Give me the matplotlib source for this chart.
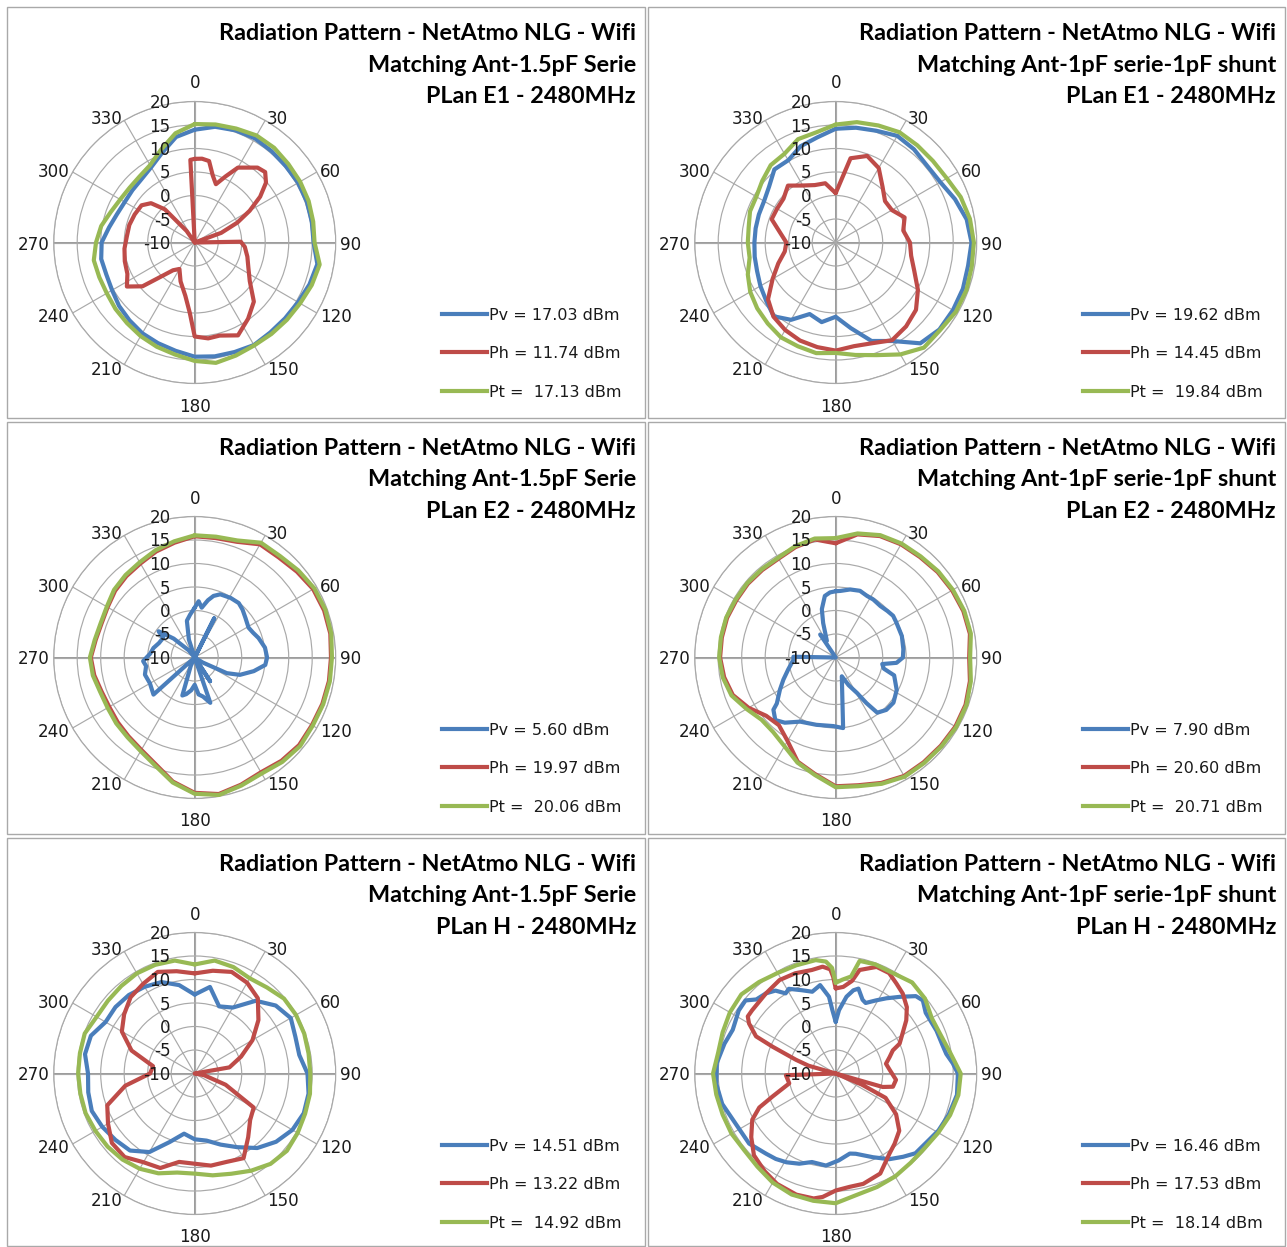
import numpy as np
import matplotlib
matplotlib.use("Agg")
import matplotlib.pyplot as plt
from matplotlib.lines import Line2D
from matplotlib.patches import Rectangle
from matplotlib.transforms import ScaledTranslation

W, H, DPI = 1287, 1247, 100

# ------------------------------------------------------------------ data
ANG10 = list(range(0, 360, 10))
angle_labels = ['0', '30', '60', '90', '120', '150', '180', '210', '240', '270', '300', '330']
ring_values = [20, 15, 10, 5, 0, -5, -10]

title_top = "Radiation Pattern - NetAtmo NLG - Wifi"
match_a = "Matching Ant-1.5pF Serie"
match_b = "Matching Ant-1pF serie-1pF shunt"
plan_e1 = "PLan E1 - 2480MHz"
plan_e2 = "PLan E2 - 2480MHz"
plan_h = "PLan H - 2480MHz"

# Panel 1 : E1, 1.5pF serie
e1a_pv = [14.0, 15.0, 15.4, 15.6, 15.4, 15.3, 15.4, 15.4, 15.3, 15.3, 16.5, 16.0, 15.4, 15.1, 15.0, 15.2, 14.8, 14.6,
          14.3, 13.4, 12.8, 12.3, 11.6, 11.0, 10.3, 10.0, 10.2, 9.8, 8.5, 7.6, 7.2, 7.3, 7.6, 8.5, 10.3, 12.8]
e1a_pt = [15.2, 15.5, 15.8, 16.3, 16.3, 16.0, 15.9, 15.8, 15.6, 15.5, 17.0, 16.5, 15.9, 15.6, 15.4, 15.3, 15.6, 16.0,
          15.2, 14.2, 13.6, 13.0, 12.4, 12.0, 11.6, 11.6, 11.8, 11.0, 10.2, 9.0, 8.3, 8.1, 8.3, 9.0, 11.0, 13.6]
e1a_ph_ang = [0, 5, 10, 15, 20, 25, 30, 40, 45, 50, 55, 60, 65, 70, 80, 89, 95, 105, 115, 125, 135, 145, 155, 165,
              172, 180, 184, 190, 200, 210, 218, 225, 230, 237, 245, 255, 265, 275, 285, 295, 305, 312, 318, 325,
              350, 357]
e1a_ph = [7.8, 7.9, 7.6, 4.8, 3.2, 5.5, 8.4, 10.8, 11.2, 9.8, 7.0, 3.5, 0.0, -4.0, -10, -0.2, 0.7, 1.6, 2.6, 4.3,
          7.8, 9.8, 11.8, 10.5, 10.6, 10.0, 5.0, 1.5, -1.2, -3.5, -2.5, 0.4, 4.5, 7.2, 5.8, 5.4, 5.0, 4.5, 4.4, 4.1,
          3.8, 2.5, -0.5, -7.0, -10, 7.6]

# Panel 2 : E1, 1pF serie / 1pF shunt
e1b_pv = [14.2, 14.8, 15.3, 16.2, 15.9, 15.4, 15.7, 17.0, 18.3, 18.9, 18.6, 18.8, 18.8, 18.8, 18.0, 14.2, 12.3, 8.5,
          5.8, 7.2, 6.2, 9.0, 10.5, 9.3, 8.5, 7.8, 7.5, 7.3, 7.3, 7.4, 7.6, 8.5, 10.3, 10.2, 11.8, 12.7]
e1b_ph = [0.5, 8.2, 9.6, 8.3, 5.5, 3.7, 3.8, 5.6, 4.6, 5.8, 6.3, 7.8, 10.2, 12.3, 13.3, 14.0, 12.8, 12.4, 13.0, 12.6,
          12.2, 11.5, 10.6, 8.8, 5.5, 3.0, 1.0, 0.5, 2.0, 4.5, 4.4, 4.5, 5.8, 4.0, 3.0, 2.8]
e1b_pt = [15.1, 16.0, 16.5, 17.1, 17.0, 17.0, 17.3, 18.3, 19.0, 19.4, 19.4, 19.6, 19.5, 19.0, 19.2, 17.5, 15.5, 14.3,
          13.5, 13.9, 13.5, 13.3, 12.5, 11.8, 11.0, 9.9, 8.6, 8.7, 8.8, 9.4, 9.5, 10.4, 11.5, 11.8, 13.4, 13.8]

# Panel 3 : E2, 1.5pF serie
e2a_pv_ang = [0, 4, 8, 13, 17, 22, 31, 39, 45, 52, 61, 67, 73, 82, 90, 96, 103, 111, 116, 122, 135, 147, 152, 161,
              168, 174, 180, 186, 193, 198, 205, 215, 228, 240, 251, 260, 266, 275, 283, 292, 302, 306, 312, 320,
              333, 342, 348, 354]
e2a_pv = [0.6, 2.0, 0.7, 2.5, 3.7, 4.5, 4.8, 4.9, 4.4, 3.7, 3.1, 3.5, 4.2, 5.1, 5.4, 5.1, 2.9, 0.3, -2.4, -8.0,
          -10, -4.0, -10, 0.2, -1.5, -2.1, -4.2, -3.0, -2.0, -1.5, -8.0, -10, 1.8, 1.0, 1.2, 0.5, 1.0, -0.5, -1.0,
          -1.8, -2.1, -0.5, -4.0, -8.0, -10, -6.0, -2.0, -0.8]
e2a_pv_spike_ang = [24, 26.5, 29]
e2a_pv_spike = [-10, -0.7, -10]
e2a_ph = [15.8, 15.8, 16.2, 17.8, 17.8, 18.4, 19.1, 19.3, 19.3, 19.0, 19.0, 18.9, 18.8, 19.0, 18.7, 18.2, 18.8, 19.5,
          18.8, 16.8, 14.2, 12.7, 11.9, 11.4, 11.0, 11.1, 11.7, 12.1, 11.4, 11.1, 11.4, 12.1, 12.6, 13.1, 14.0, 14.8]
e2a_pt = [16.0, 16.1, 16.5, 18.2, 18.2, 18.8, 19.4, 19.6, 19.5, 19.2, 19.2, 19.1, 19.0, 19.3, 19.0, 18.5, 19.0, 19.7,
          19.0, 17.0, 14.5, 13.0, 12.2, 11.8, 11.4, 11.4, 12.0, 12.3, 11.6, 11.3, 11.6, 12.4, 12.9, 13.4, 14.3, 15.1]

# Panel 4 : E2, 1pF serie / 1pF shunt
e2b_pv_ang = [0, 4, 12, 20, 27, 33, 41, 48, 54, 60, 72, 83, 90, 95, 98, 103, 107, 118, 128, 136, 143, 146, 149,
              155, 162, 174, 182, 196, 209, 218, 224, 230, 232, 240, 247, 256, 267, 271, 276, 320, 326, 332, 340,
              344, 350, 355]
e2b_pv = [4.1, 4.2, 4.8, 5.1, 4.7, 4.7, 4.5, 4.8, 5.1, 4.9, 4.8, 4.5, 4.3, 3.0, 0.0, 0.5, 3.0, 4.7, 5.6, 5.5, 4.7,
          1.7, -1.2, -3.5, -5.8, 5.1, 4.6, 4.9, 5.6, 7.6, 8.5, 7.3, 5.9, 3.7, 2.1, 0.4, -1.0, -1.0, -10, -10, -4.1,
          -6.0, -2.2, 0.7, 3.3, 3.9]
e2b_ph = [14.3, 16.6, 17.5, 17.8, 17.9, 18.3, 18.6, 18.9, 19.0, 18.4, 19.0, 19.4, 19.4, 19.2, 19.1, 19.1, 18.4, 17.6,
          17.4, 15.2, 13.6, 10.5, 8.8, 9.3, 11.4, 13.3, 14.1, 14.6, 14.6, 14.6, 14.4, 14.4, 14.3, 14.3, 15.0, 15.5]
e2b_pt = [15.4, 16.8, 17.7, 18.0, 18.1, 18.5, 18.8, 19.1, 19.2, 18.6, 19.2, 19.6, 19.6, 19.4, 19.3, 19.3, 18.6, 17.8,
          17.6, 15.4, 13.8, 11.8, 10.7, 10.6, 11.9, 13.6, 14.4, 14.8, 14.8, 14.8, 14.6, 14.6, 14.5, 14.5, 15.2, 15.7]

# Panel 5 : H, 1.5pF serie
ha_pv = [6.8, 8.7, 5.2, 6.2, 10.2, 12.5, 13.6, 12.8, 12.6, 14.0, 14.6, 14.7, 14.0, 12.6, 10.7, 8.1, 6.1, 4.5, 4.0,
         3.0, 5.5, 9.3, 11.4, 12.0, 12.7, 13.3, 13.0, 12.7, 13.7, 13.5, 11.9, 12.0, 11.8, 11.3, 10.7, 9.1]
ha_ph = [11.3, 12.2, 13.0, 12.3, 10.9, 7.7, 4.2, 0.5, -2.5, -10, -8.0, -3.0, 4.5, 5.4, 7.7, 10.8, 10.0, 9.9, 9.2,
         9.1, 11.4, 11.8, 13.2, 13.0, 11.3, 9.8, 5.0, -0.5, -1.0, 4.3, 7.9, 9.6, 11.2, 12.0, 13.0, 12.1]
ha_pt = [13.2, 14.4, 14.1, 13.4, 13.9, 14.8, 14.9, 14.8, 14.6, 14.6, 14.9, 15.0, 15.3, 15.6, 15.1, 13.9, 12.7, 12.0,
         11.3, 11.4, 12.6, 13.4, 13.9, 14.2, 14.4, 14.7, 14.7, 14.8, 14.8, 14.9, 14.1, 14.1, 14.3, 14.6, 14.6, 14.4]

# Panel 6 : H, 1pF serie / 1pF shunt
hb_pv_ang = [0, 3, 8, 12, 15, 20, 23, 29, 34, 40, 46, 50, 56, 67, 75, 80, 85, 90, 100, 110, 119, 125, 135, 141,
             148, 156, 166, 170, 178, 186, 195, 202, 209, 215, 221, 231, 243, 255, 265, 275, 285, 293, 298, 303,
             309, 313, 319, 324, 328, 331, 338, 344, 350, 355, 357]
hb_pv = [1.0, 3.5, 6.5, 8.1, 8.7, 6.7, 6.3, 7.8, 9.3, 11.3, 13.7, 14.2, 13.1, 13.3, 13.5, 13.9, 15.0, 16.0, 16.2,
         15.6, 15.0, 14.4, 14.0, 12.8, 11.5, 9.5, 7.6, 7.3, 8.5, 9.7, 9.5, 10.7, 11.6, 12.2, 12.6, 13.7, 13.8, 15.0,
         15.5, 15.4, 14.5, 13.8, 14.1, 14.6, 14.7, 13.1, 12.6, 11.8, 10.1, 10.6, 9.1, 8.1, 9.1, 6.4, 3.5]
hb_ph_ang = [0, 5, 10, 13, 21, 28, 34, 40, 47, 53, 59, 65, 68, 73, 79, 86, 96, 103, 106, 110, 113, 116, 124, 132,
             140, 146, 156, 166, 173, 180, 186, 190, 198, 208, 216, 225, 233, 241, 246, 250, 258, 268, 278, 286,
             289, 293, 295, 300, 303, 307, 319, 329, 338, 347, 353, 357, 358.5]
hb_ph = [8.1, 8.5, 10.0, 12.6, 14.3, 14.2, 13.1, 12.2, 10.7, 8.8, 6.6, 5.0, 3.1, 2.0, 0.9, 1.5, 2.9, 2.5, 0.4, -10,
         -4.0, 1.8, 5.5, 8.2, 9.5, 10.5, 13.3, 14.2, 14.3, 14.9, 16.4, 17.0, 17.1, 16.6, 15.7, 14.6, 12.5, 10.3, 7.8,
         4.3, 0.1, 0.6, -10, -4.0, -1.1, 4.6, 8.7, 11.3, 12.3, 12.3, 12.6, 13.2, 13.0, 12.6, 12.9, 12.2, 10.6]
hb_pt_ang = [0, 4, 9, 12, 20, 30, 40, 50, 60, 70, 80, 90, 100, 110, 120, 130, 140, 150, 160, 170, 180, 190, 200,
             210, 220, 230, 240, 250, 260, 270, 280, 290, 300, 310, 320, 330, 340, 350, 355, 358]
hb_pt = [9.3, 10.0, 10.9, 14.5, 14.7, 14.6, 15.3, 14.8, 13.6, 13.8, 14.8, 16.6, 16.5, 15.9, 15.2, 14.7, 14.8, 15.3,
         15.7, 16.2, 17.6, 17.5, 17.4, 16.8, 15.9, 15.4, 15.6, 15.6, 15.8, 16.1, 15.4, 15.6, 16.0, 16.2, 15.4, 14.7,
         14.5, 14.5, 13.9, 12.5]

legend_e1a = ["Pv = 17.03 dBm", "Ph = 11.74 dBm", "Pt =  17.13 dBm"]
legend_e1b = ["Pv = 19.62 dBm", "Ph = 14.45 dBm", "Pt =  19.84 dBm"]
legend_e2a = ["Pv = 5.60 dBm", "Ph = 19.97 dBm", "Pt =  20.06 dBm"]
legend_e2b = ["Pv = 7.90 dBm", "Ph = 20.60 dBm", "Pt =  20.71 dBm"]
legend_ha = ["Pv = 14.51 dBm", "Ph = 13.22 dBm", "Pt =  14.92 dBm"]
legend_hb = ["Pv = 16.46 dBm", "Ph = 17.53 dBm", "Pt =  18.14 dBm"]

# ------------------------------------------------------------------ style
C_PV, C_PH, C_PT = "#4A7EBB", "#BE4B48", "#98B954"
GRID = "#a9a9a9"
AXIS = "#7f7f7f"
TXT = "#1a1a1a"
LABEL_FONT = ["DejaVu Sans"]
TITLE_FONT = ["Lato", "DejaVu Sans"]
LW = 3.0

panels = [
    dict(col=0, row=0, title=[title_top, match_a, plan_e1], legend=legend_e1a,
         series=[(ANG10, e1a_pv, C_PV), (e1a_ph_ang, e1a_ph, C_PH), (ANG10, e1a_pt, C_PT)], extra=None),
    dict(col=1, row=0, title=[title_top, match_b, plan_e1], legend=legend_e1b,
         series=[(ANG10, e1b_pv, C_PV), (ANG10, e1b_ph, C_PH), (ANG10, e1b_pt, C_PT)], extra=None),
    dict(col=0, row=1, title=[title_top, match_a, plan_e2], legend=legend_e2a,
         series=[(e2a_pv_ang, e2a_pv, C_PV), (ANG10, e2a_ph, C_PH), (ANG10, e2a_pt, C_PT)],
         extra=(e2a_pv_spike_ang, e2a_pv_spike, C_PV)),
    dict(col=1, row=1, title=[title_top, match_b, plan_e2], legend=legend_e2b,
         series=[(e2b_pv_ang, e2b_pv, C_PV), (ANG10, e2b_ph, C_PH), (ANG10, e2b_pt, C_PT)], extra=None),
    dict(col=0, row=2, title=[title_top, match_a, plan_h], legend=legend_ha,
         series=[(ANG10, ha_pv, C_PV), (ANG10, ha_ph, C_PH), (ANG10, ha_pt, C_PT)], extra=None),
    dict(col=1, row=2, title=[title_top, match_b, plan_h], legend=legend_hb,
         series=[(hb_pv_ang, hb_pv, C_PV), (hb_ph_ang, hb_ph, C_PH), (hb_pt_ang, hb_pt, C_PT)], extra=None),
]

COL_X0, COL_X1 = [7, 648], [645, 1285]
ROW_Y0, ROW_Y1 = [7, 422, 838], [418, 834, 1245.5]
R_PX = 141.0
RMIN, RMAX = -10, 20


def fx(x):
    return x / W


def fy(y):
    return 1 - y / H


def r_of_px(p):
    return RMIN + p / R_PX * (RMAX - RMIN)


fig = plt.figure(figsize=(W / DPI, H / DPI), dpi=DPI, facecolor="white")
renderer = fig.canvas.get_renderer()

# fit font sizes to the reference text widths
probe = fig.text(0, 0, title_top, fontsize=15, fontweight="bold", family=TITLE_FONT)
fs_title = 15 * 418.0 / probe.get_window_extent(renderer).width
probe.remove()
probe = fig.text(0, 0, legend_e1a[0], fontsize=11.5, family=LABEL_FONT)
fs_leg = 11.5 * 131.0 / probe.get_window_extent(renderer).width
probe.remove()
probe = fig.text(0, 0, "330", fontsize=12, family=LABEL_FONT)
fs_tick = 12 * 32.0 / probe.get_window_extent(renderer).width
probe.remove()

for p in panels:
    px0, px1 = COL_X0[p["col"]], COL_X1[p["col"]]
    py0, py1 = ROW_Y0[p["row"]], ROW_Y1[p["row"]]

    # panel frame
    fig.add_artist(Rectangle((fx(px0), fy(py1)), (px1 - px0) / W, (py1 - py0) / H,
                             transform=fig.transFigure, fill=False, ec="#a9a9a9", lw=1.0))

    cx, cy = px0 + 187.7, py0 + 235.5
    ax = fig.add_axes([fx(cx - R_PX), fy(cy + R_PX), 2 * R_PX / W, 2 * R_PX / H], projection="polar")
    ax.set_theta_zero_location("N")
    ax.set_theta_direction(-1)
    ax.set_ylim(RMIN, RMAX)
    ax.set_yticks([-5, 0, 5, 10, 15, 20])
    ax.set_xticks(np.deg2rad(np.arange(0, 360, 30)))
    ax.set_xticklabels([])
    ax.set_yticklabels([])
    ax.tick_params(length=0)
    ax.grid(True, color=GRID, lw=0.85)
    ax.spines["polar"].set_color(GRID)
    ax.spines["polar"].set_linewidth(0.85)
    ax.set_facecolor("none")
    for a in (0, 90, 180, 270):
        ax.plot([np.deg2rad(a)] * 2, [RMIN, RMAX], color=AXIS, lw=1.1, zorder=1.5)

    # data
    for z, (ang, val, col) in enumerate(p["series"]):
        a = np.deg2rad(np.r_[ang, ang[0] + 360.0])
        v = np.clip(np.r_[val, val[0]], RMIN, RMAX)
        ax.plot(a, v, color=col, lw=LW, solid_joinstyle="round", solid_capstyle="round",
                clip_on=False, zorder=3 + z)
    if p["extra"] is not None:
        ang, val, col = p["extra"]
        ax.plot(np.deg2rad(ang), np.clip(val, RMIN, RMAX), color=col, lw=LW,
                solid_joinstyle="round", zorder=3)

    # angle labels
    down = ScaledTranslation(0, -2 / DPI, fig.dpi_scale_trans)
    for lab in angle_labels:
        a = int(lab)
        if a == 0:
            ax.text(0, r_of_px(150), lab, ha="center", va="bottom", fontsize=fs_tick,
                    family=LABEL_FONT, color=TXT)
        elif a == 180:
            ax.text(np.pi, r_of_px(155), lab, ha="center", va="top", fontsize=fs_tick,
                    family=LABEL_FONT, color=TXT)
        else:
            ax.text(np.deg2rad(a), r_of_px(145), lab, ha="left" if a < 180 else "right", va="center",
                    fontsize=fs_tick, family=LABEL_FONT, color=TXT, transform=ax.transData + down)

    # radial value labels
    shift = ScaledTranslation(-24 / DPI, -1.5 / DPI, fig.dpi_scale_trans)
    for rv in ring_values:
        ax.text(0, rv, str(rv), ha="right", va="center", fontsize=fs_tick, family=LABEL_FONT,
                color=TXT, transform=ax.transData + shift, zorder=10)

    # title
    for line, base in zip(p["title"], (33.0, 64.5, 96.0)):
        fig.text(fx(px1 - 9), fy(py0 + base), line, ha="right", va="baseline", fontsize=fs_title,
                 fontweight="bold", family=TITLE_FONT, color="black")

    # legend
    for (ang, val, col), lab, ly, tb in zip(p["series"], p["legend"], (307, 345.3, 383.7), (313, 351.3, 389.7)):
        fig.add_artist(Line2D([fx(px0 + 435), fx(px0 + 480)], [fy(py0 + ly)] * 2, color=col, lw=LW,
                              transform=fig.transFigure))
        fig.text(fx(px0 + 482.3), fy(py0 + tb), lab, ha="left", va="baseline", fontsize=fs_leg,
                 family=LABEL_FONT, color=TXT)

fig.savefig("out.png", dpi=DPI, facecolor="white")
